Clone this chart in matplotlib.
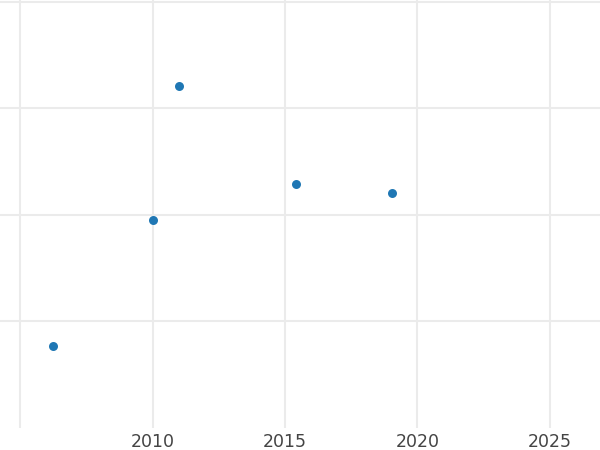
import matplotlib
matplotlib.use("Agg")
import matplotlib.pyplot as plt

years = [2006.23, 2010.01, 2011.01, 2015.41, 2019.04]
values = [0.765, 1.955, 3.215, 2.29, 2.2]
x_ticks = [2005, 2010, 2015, 2020, 2025]
x_tick_labels = ["", "2010", "2015", "2020", "2025"]
y_ticks = [1, 2, 3, 4]

fig = plt.figure(figsize=(6, 4.5), dpi=100)
ax = fig.add_axes([0, 0.05, 1, 0.95])
ax.scatter(years, values, s=42, color="#1f77b4", zorder=3, linewidths=0)
ax.set_xlim(2004.245, 2026.887)
ax.set_ylim(0, 4.019)
ax.set_xticks(x_ticks)
ax.set_xticklabels(x_tick_labels)
ax.set_yticks(y_ticks)
ax.set_yticklabels([])
ax.grid(True, color="#ebebeb", linewidth=1.5, zorder=0)
ax.set_axisbelow(True)
for s in ax.spines.values():
    s.set_visible(False)
ax.tick_params(axis="both", length=0, labelsize=12.5, labelcolor="#444444", pad=4)
fig.savefig("out.png", dpi=100)
